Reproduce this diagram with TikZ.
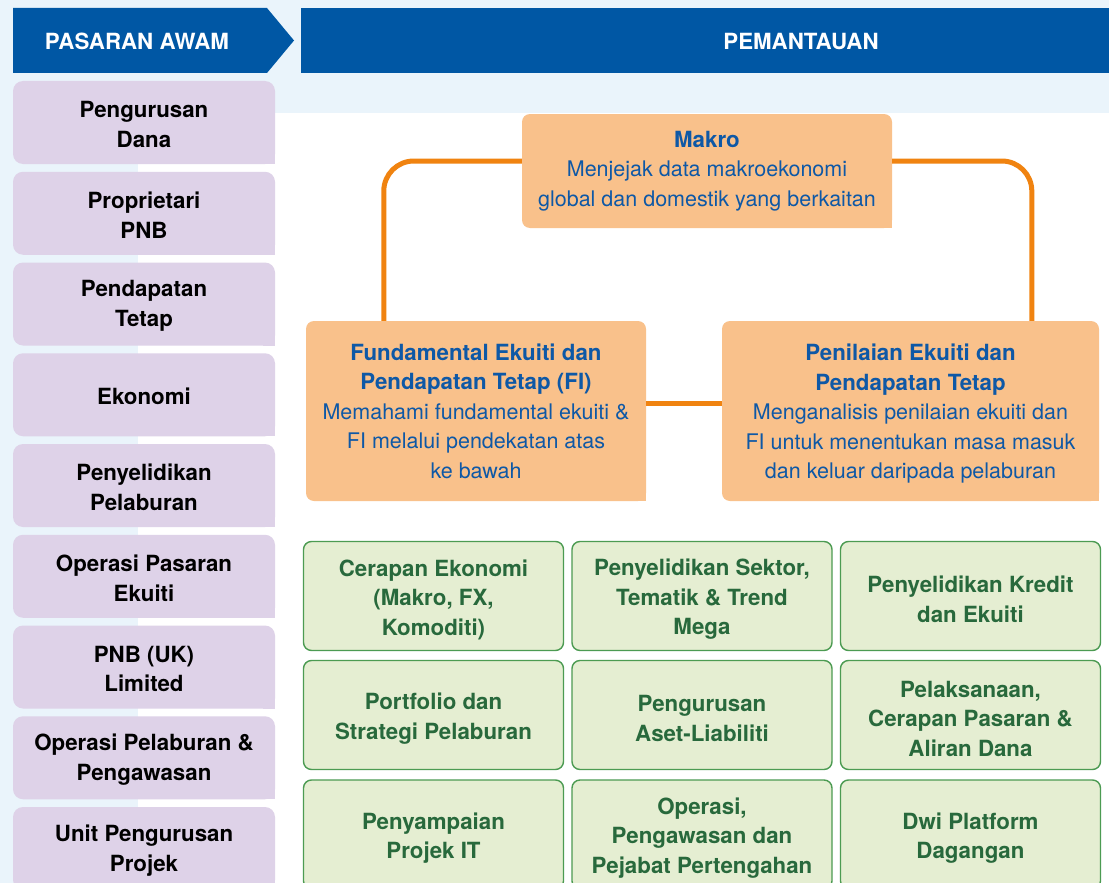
\documentclass[tikz,border=0pt]{standalone}
\usepackage{fontspec}
\setmainfont{TeX Gyre Heros}
\definecolor{hblue}{RGB}{0,87,164}
\definecolor{lblue}{RGB}{234,244,251}
\definecolor{purp}{RGB}{222,210,232}
\definecolor{ofill}{RGB}{249,193,139}
\definecolor{oline}{RGB}{240,131,16}
\definecolor{otext}{RGB}{14,88,166}
\definecolor{gfill}{RGB}{229,238,210}
\definecolor{gline}{RGB}{76,155,82}
\definecolor{gtext}{RGB}{40,105,60}
\newcommand{\bsz}{\fontsize{22.3pt}{29.5pt}\selectfont\bfseries}
\newcommand{\rsz}{\fontsize{21.5pt}{29.5pt}\selectfont}
\tikzset{
  txt/.style={align=center, inner sep=0pt},
  hdrtext/.style={txt, text=white, font=\bsz},
  pbox/.style={fill=purp, rounded corners=10pt, minimum width=262pt, minimum height=83pt, inner sep=0pt},
  ptext/.style={txt, text=black, font=\bsz},
  obox/.style={txt, fill=ofill, rounded corners=8pt, text=otext, font=\rsz},
  gbox/.style={fill=gfill, draw=gline, line width=1.4pt, rounded corners=8pt, minimum width=260pt, minimum height=109pt, inner sep=0pt},
  gtxt/.style={txt, text=gtext, font=\bsz},
  conn/.style={draw=oline, line width=5pt},
}
\begin{document}
\begin{tikzpicture}[x=1pt,y=-1pt]
\clip (0,0) rectangle (1109,883);
\fill[white] (0,0) rectangle (1109,883);
\fill[lblue] (0,0) rectangle (1109,113);
\fill[lblue] (0,0) rectangle (138,883);
% headers
\fill[hblue] (13,8) -- (267,8) -- (294,40.5) -- (267,73) -- (13,73) -- cycle;
\node[hdrtext] (hdrL) at (137,41.5) {PASARAN AWAM};
\fill[hblue] (301,8) rectangle (1109,73);
\node[hdrtext] (hdrR) at (801,41.5) {PEMANTAUAN};
% purple column
\foreach \i/\t in {0/{Pengurusan\\Dana},1/{Proprietari\\PNB},2/{Pendapatan\\Tetap},3/{Ekonomi},4/{Penyelidikan\\Pelaburan},5/{Operasi Pasaran\\Ekuiti},6/{PNB (UK)\\Limited},7/{Operasi Pelaburan \&\\Pengawasan},8/{Unit Pengurusan\\Projek}}{
  \node[pbox] (p\i) at (144,{122.5+90.75*\i}) {};
  \fill[purp] (p\i.south east) rectangle ++(-12,-12);
  \node[ptext] (pt\i) at ([yshift=-2pt]p\i.center) {\t};
}
% orange boxes
\node[obox, minimum width=370pt, minimum height=114pt] (makro) at (707,171) {{\bsz Makro}\\Menjejak data makroekonomi\\global dan domestik yang berkaitan};
\fill[ofill] (makro.south east) rectangle ++(-10,-10);
\node[obox, minimum width=340pt, minimum height=180pt] (fund) at (476,411) {{\bsz Fundamental Ekuiti dan}\\{\bsz Pendapatan Tetap (FI)}\\Memahami fundamental ekuiti \&\\FI melalui pendekatan atas\\ke bawah};
\fill[ofill] (fund.south east) rectangle ++(-10,-10);
\node[obox, minimum width=377pt, minimum height=180pt] (pen) at (910.5,411) {};
\fill[ofill] (pen.south east) rectangle ++(-10,-10);
\node[txt, text=otext, font=\rsz] (pent) at ([yshift=-3pt]pen.center) {{\bsz Penilaian Ekuiti dan}\\{\bsz Pendapatan Tetap}\\Menganalisis penilaian ekuiti dan\\FI untuk menentukan masa masuk\\dan keluar daripada pelaburan};
% connectors
\draw[conn, rounded corners=30pt] ([xshift=78pt]fund.north west) |- ([yshift=10pt]makro.west);
\draw[conn, rounded corners=30pt] ([yshift=10pt]makro.east) -| ([xshift=310pt]pen.north west);
\draw[conn] ([yshift=8pt]fund.east) -- ([yshift=8pt]pen.west);
% green boxes
\foreach \n/\x/\y/\t in {
  g11/433.5/596/{Cerapan Ekonomi\\(Makro, FX,\\Komoditi)},
  g12/702/596/{Penyelidikan Sektor,\\Tematik \& Trend\\Mega},
  g13/970.5/596/{Penyelidikan Kredit\\dan Ekuiti},
  g21/433.5/715/{Portfolio dan\\Strategi Pelaburan},
  g22/702/715/{Pengurusan\\Aset-Liabiliti},
  g23/970.5/715/{Pelaksanaan,\\Cerapan Pasaran \&\\Aliran Dana},
  g31/433.5/834.5/{Penyampaian\\Projek IT},
  g32/702/834.5/{Operasi,\\Pengawasan dan\\Pejabat Pertengahan},
  g33/970.5/834.5/{Dwi Platform\\Dagangan}}{
  \node[gbox] (\n) at (\x,\y) {};
  \node[gtxt] (\n t) at ([yshift=-3.5pt]\n.center) {\t};
}
\end{tikzpicture}
\end{document}
